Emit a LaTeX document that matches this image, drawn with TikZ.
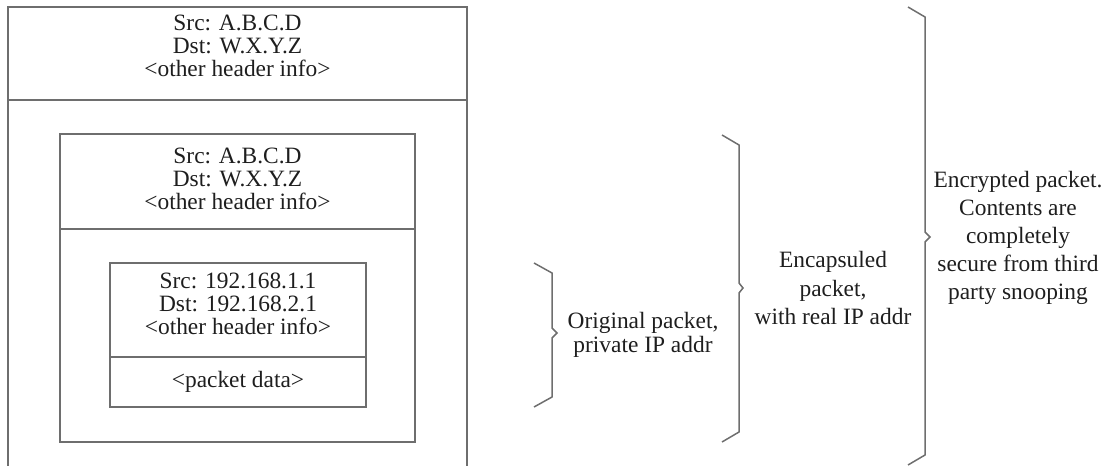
\documentclass[tikz,border=0pt]{standalone}
\usepackage{fontspec}
\setmainfont{Liberation Serif}
\definecolor{linegray}{RGB}{110,110,110}
\definecolor{txt}{RGB}{30,30,30}
\begin{document}
\begin{tikzpicture}[x=0.5pt,y=-0.5pt,
  boxline/.style={draw=linegray,line width=0.75pt},
  bracel/.style={draw=linegray,line width=0.75pt,line join=miter},
  boxtext/.style={align=center,text=txt,inner sep=0pt,font=\fontsize{11.7}{11.5}\selectfont},
  sidetext/.style={align=center,text=txt,inner sep=0pt}]
\useasboundingbox (0,0) rectangle (1109,466);
% outer box (open at bottom)
\draw[boxline] (8,466) -- (8,7) -- (467,7) -- (467,466);
\draw[boxline] (8,100) -- (467,100);
% middle box
\draw[boxline] (60,134) rectangle (415,442);
\draw[boxline] (60,229) -- (415,229);
% inner box
\draw[boxline] (110,263) rectangle (366,407);
\draw[boxline] (110,357) -- (366,357);
% texts
\node[boxtext] (h1) at (237.5,46) {Src: A.B.C.D\\Dst: W.X.Y.Z\\<other header info>};
\node[boxtext] (h2) at (237.5,179) {Src: A.B.C.D\\Dst: W.X.Y.Z\\<other header info>};
\node[boxtext] (h3) at (238,304) {Src: 192.168.1.1\\Dst: 192.168.2.1\\<other header info>};
\node[boxtext] (d3) at (238,382) {<packet data>};
% braces
\draw[bracel] (534,263) -- (552,273) -- (552,328) -- (557,333) -- (552,338) -- (552,397) -- (534,407);
\draw[bracel] (722,135) -- (739,145) -- (739,283) -- (743,288) -- (739,293) -- (739,432) -- (722,442);
\draw[bracel] (908,7) -- (925,17) -- (925,232) -- (930,237) -- (925,242) -- (925,455) -- (908,465);
% side labels
\node[sidetext,font=\fontsize{11.7}{12}\selectfont] (l1) at (643,335) {Original packet,\\private IP addr};
\node[sidetext,font=\fontsize{11.7}{14.2}\selectfont] (l2) at (833,288) {Encapsuled\\packet,\\with real IP addr};
\node[sidetext,font=\fontsize{11.7}{14.1}\selectfont] (l3) at (1018,238) {Encrypted packet.\\Contents are\\completely\\secure from third\\party snooping};
\end{tikzpicture}
\end{document}
